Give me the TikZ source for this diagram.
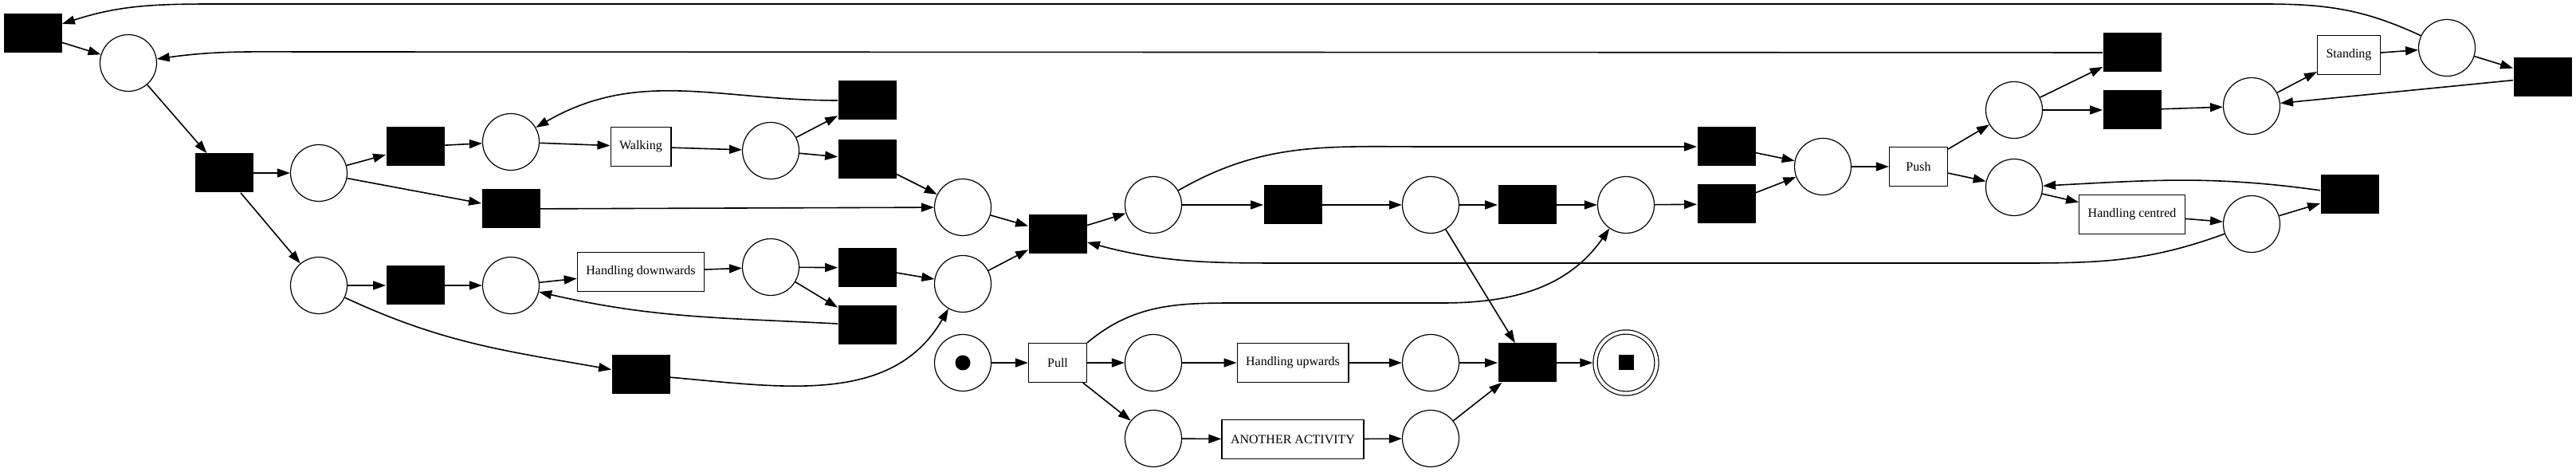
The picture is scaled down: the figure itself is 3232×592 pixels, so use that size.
\documentclass[tikz,border=0pt]{standalone}
\usepackage{fontspec}
\setmainfont{Liberation Serif}
\usetikzlibrary{arrows.meta}

\begin{document}
\begin{tikzpicture}[
    x=0.5pt, y=-0.5pt,
    place/.style={draw, circle, minimum size=35.5pt, inner sep=0pt, line width=0.6pt},
    silent/.style={fill=black, minimum width=36.5pt, minimum height=24.5pt, inner sep=0pt},
    activity/.style={draw, fill=white, minimum width=36.5pt, minimum height=24.5pt,
      inner xsep=5.5pt, inner ysep=0pt, line width=0.6pt, font=\fontsize{8}{9.6}\selectfont},
    flow/.style={-{Triangle[length=8pt,width=5.5pt]}, line width=0.8pt}
  ]
    \useasboundingbox (0,0) rectangle (3232,592);

    % Left part: walking and handling downwards
    \node[silent] (tau1) at (41,42) {};
    \node[place] (p1) at (161,79) {};
    \node[silent] (tau2) at (281,217) {};
    \node[place] (p2) at (400,217) {};
    \node[silent] (tau3) at (521,184) {};
    \node[place] (p3) at (641,178) {};
    \node[activity] (walking) at (804,184) {Walking};
    \node[place] (p4) at (967,189) {};
    \node[silent] (tau6) at (1088,126) {};
    \node[silent] (tau7) at (1088,200) {};
    \node[silent] (tau4) at (641,262) {};
    \node[place] (p5) at (400,358) {};
    \node[silent] (tau5) at (521,358) {};
    \node[place] (p6) at (641,358) {};
    \node[activity] (handdown) at (804,341) {Handling downwards};
    \node[place] (p7) at (967,335) {};
    \node[silent] (tau8) at (1088,336) {};
    \node[silent] (tau9) at (1088,408) {};
    \node[silent] (tau10) at (804,470) {};

    % Middle part
    \node[place] (p8) at (1208,260) {};
    \node[place] (p9) at (1208,356) {};
    \node[silent] (tau11) at (1327,294) {};
    \node[place] (p10) at (1447,257) {};
    \node[silent] (tau12) at (1622,257) {};
    \node[place] (p13) at (1795,257) {};
    \node[silent] (tau13) at (1916,257) {};
    \node[place] (p16) at (2040,257) {};

    % Bottom: start, pull, end
    \node[place] (source) at (1208,455) {};
    \node[fill, circle, minimum size=9.5pt, inner sep=0pt] (token) at (source) {};
    \node[activity] (pull) at (1327,455) {Pull};
    \node[place] (p11) at (1447,455) {};
    \node[activity] (handup) at (1622,455) {Handling upwards};
    \node[place] (p14) at (1795,455) {};
    \node[place] (p12) at (1447,550) {};
    \node[activity] (another) at (1622,551) {ANOTHER ACTIVITY};
    \node[place] (p15) at (1795,550) {};
    \node[silent] (tau14) at (1916,455) {};
    \node[place, double, double distance=2pt, minimum size=38.5pt, outer sep=1.6pt] (sink) at (2040,455) {};
    \node[fill, minimum size=9.5pt, inner sep=0pt] (stop) at (sink) {};

    % Right part: push, standing, handling centred
    \node[silent] (tau15) at (2166,184) {};
    \node[silent] (tau16) at (2166,256) {};
    \node[place] (p17) at (2287,209) {};
    \node[activity] (push) at (2407,209) {Push};
    \node[place] (p18) at (2527,138) {};
    \node[place] (p19) at (2527,235) {};
    \node[silent] (tau17) at (2675,66) {};
    \node[silent] (tau18) at (2675,138) {};
    \node[place] (p20) at (2825,133) {};
    \node[activity] (standing) at (2947,69) {Standing};
    \node[place] (p22) at (3070,60) {};
    \node[silent] (tau19) at (3190,97) {};
    \node[activity] (handcent) at (2675,269) {Handling centred};
    \node[place] (p21) at (2825,281) {};
    \node[silent] (tau20) at (2948,244) {};

    % Arcs
    \draw[flow] (tau1) -- (p1);
    \draw[flow] (p22) to[out=155,in=0] (2840,5) -- (270,5) to[out=180,in=18] (tau1);
    \draw[flow] (tau17) -- (390,65) to[out=180,in=8] (p1);
    \draw[flow] (p1) -- (tau2);
    \draw[flow] (tau2) -- (p2);
    \draw[flow] (tau2) -- (p5);
    \draw[flow] (p2) -- (tau3);
    \draw[flow] (p2) -- (tau4);
    \draw[flow] (tau3) -- (p3);
    \draw[flow] (p3) -- (walking);
    \draw[flow] (walking) -- (p4);
    \draw[flow] (p4) -- (tau6);
    \draw[flow] (p4) -- (tau7);
    \draw[flow] (tau6) to[out=180,in=30] (p3);
    \draw[flow] (tau7) -- (p8);
    \draw[flow] (tau4) -- (p8);
    \draw[flow] (p8) -- (tau11);
    \draw[flow] (p5) -- (tau5);
    \draw[flow] (tau5) -- (p6);
    \draw[flow] (p6) -- (handdown);
    \draw[flow] (handdown) -- (p7);
    \draw[flow] (p7) -- (tau8);
    \draw[flow] (p7) -- (tau9);
    \draw[flow] (tau9) to[out=177,in=-13] (p6);
    \draw[flow] (p5) to[out=-25,in=170] (tau10);
    \draw[flow] (tau8) -- (p9);
    \draw[flow] (tau10) to[out=-5,in=240] (p9);
    \draw[flow] (p9) -- (tau11);
    \draw[flow] (tau11) -- (p10);
    \draw[flow] (p10) -- (tau12);
    \draw[flow] (p10) to[out=30,in=180] (1790,184) -- (tau15);
    \draw[flow] (tau12) -- (p13);
    \draw[flow] (p13) -- (tau13);
    \draw[flow] (p13) -- (tau14);
    \draw[flow] (tau13) -- (p16);
    \draw[flow] (p16) -- (tau16);
    \draw[flow] (tau15) -- (p17);
    \draw[flow] (tau16) -- (p17);
    \draw[flow] (p17) -- (push);
    \draw[flow] (push) -- (p18);
    \draw[flow] (push) -- (p19);
    \draw[flow] (p18) -- (tau17);
    \draw[flow] (p18) -- (tau18);
    \draw[flow] (tau18) -- (p20);
    \draw[flow] (p20) -- (standing);
    \draw[flow] (standing) -- (p22);
    \draw[flow] (p22) -- (tau19);
    \draw[flow] (tau19) -- (p20);
    \draw[flow] (p19) -- (handcent);
    \draw[flow] (handcent) -- (p21);
    \draw[flow] (p21) -- (tau20);
    \draw[flow] (tau20) to[out=172,in=3] (p19);
    \draw[flow] (p21) to[out=200,in=0] (2540,330) -- (1620,330) to[out=180,in=-15] (tau11);
    \draw[flow] (source) -- (pull);
    \draw[flow] (pull) -- (p11);
    \draw[flow] (pull) -- (p12);
    \draw[flow] (pull.north east) to[out=40,in=180] (1560,380) -- (1810,380) to[out=0,in=235] (p16);
    \draw[flow] (p11) -- (handup);
    \draw[flow] (handup) -- (p14);
    \draw[flow] (p14) -- (tau14);
    \draw[flow] (p12) -- (another);
    \draw[flow] (another) -- (p15);
    \draw[flow] (p15) -- (tau14);
    \draw[flow] (tau14) -- (sink);
  \end{tikzpicture}
\end{document}
